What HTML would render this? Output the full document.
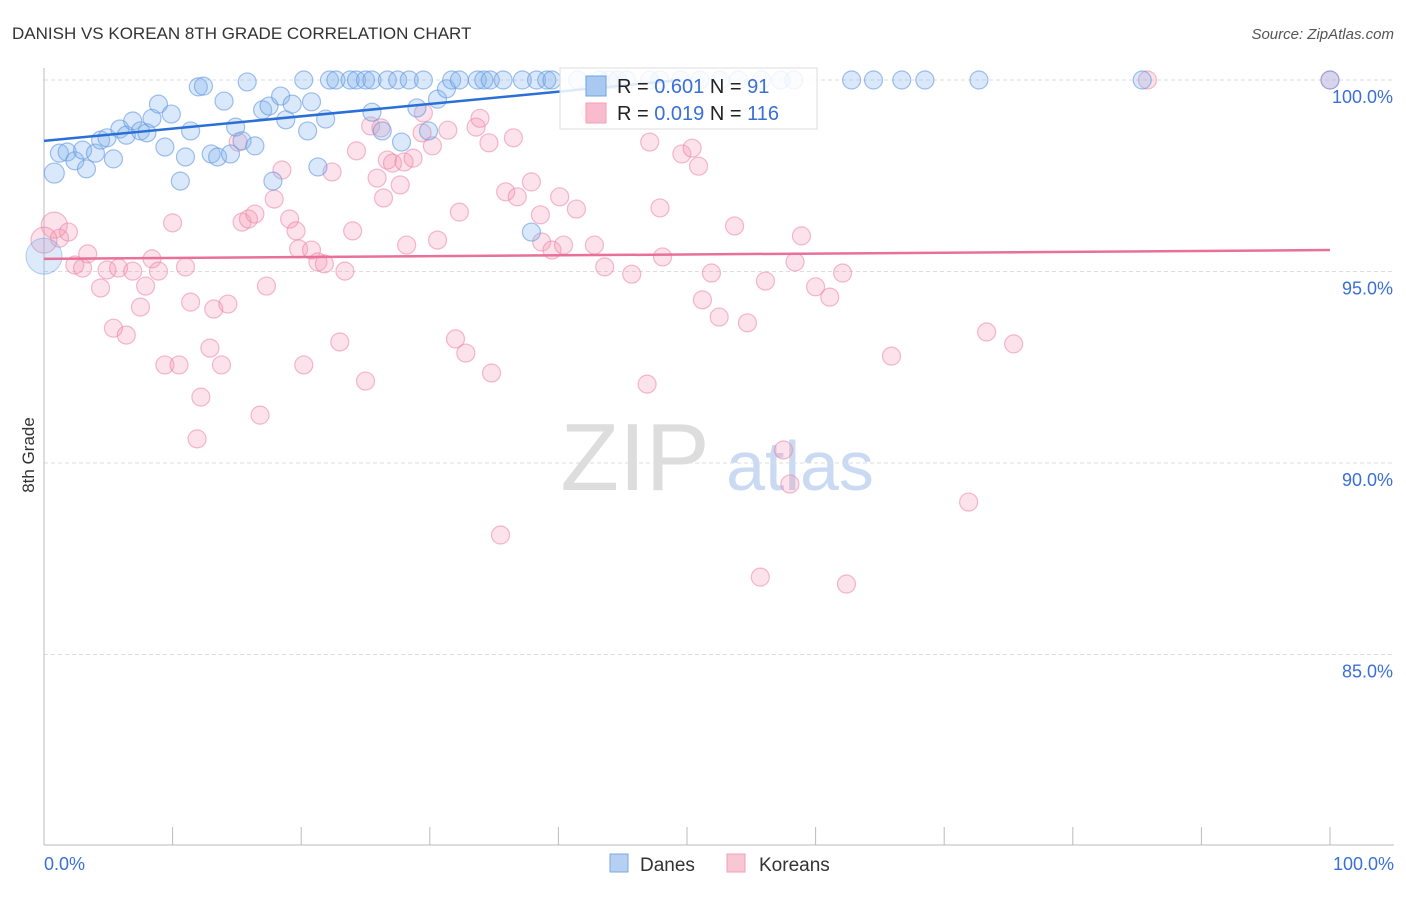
<!DOCTYPE html>
<html><head><meta charset="utf-8"><style>
body{margin:0;background:#fff;font-family:"Liberation Sans",sans-serif;}
svg text{font-family:"Liberation Sans",sans-serif;}
</style></head><body>
<svg id="chart" width="1406" height="892" xmlns="http://www.w3.org/2000/svg">
<text x="12" y="39" font-size="17" fill="#333">DANISH VS KOREAN 8TH GRADE CORRELATION CHART</text>
<text x="1394" y="39" font-size="15" fill="#555" text-anchor="end" font-style="italic">Source: ZipAtlas.com</text>
<text transform="translate(34,455) rotate(-90)" font-size="17" fill="#333" text-anchor="middle">8th Grade</text>
<g>
<text x="635" y="490" font-size="96" fill="#ddd" text-anchor="middle" font-family="Liberation Serif,serif">ZIP</text>
<text x="800" y="490" font-size="70" fill="#c9daf2" text-anchor="middle">atlas</text>
</g>
<g id="grid"></g>
<g id="axes"></g>
<g id="pts"></g>
<g id="trend"></g>
<g>
<rect x="560" y="68" width="257" height="61" fill="#fff" fill-opacity="0.85" stroke="#ddd"/>
<rect x="586" y="76" width="20" height="20" fill="#a9c9f0" stroke="#6fa3e0"/>
<text x="617" y="93" font-size="20" fill="#222">R = <tspan fill="#3a6fd8">0.601</tspan>   N =  <tspan fill="#3a6fd8">91</tspan></text>
<rect x="586" y="103" width="20" height="20" fill="#f8bccd" stroke="#f0a0b8"/>
<text x="617" y="120" font-size="20" fill="#222">R = <tspan fill="#3a6fd8">0.019</tspan>   N = <tspan fill="#3a6fd8">116</tspan></text>
</g>
<g>
<rect x="610" y="854" width="18" height="18" fill="#b5d0f2" stroke="#7aaae2"/>
<text x="640" y="871" font-size="19" fill="#333">Danes</text>
</g>
<g>
<rect x="727" y="854" width="18" height="18" fill="#f8c6d4" stroke="#f0a0b8"/>
<text x="759" y="871" font-size="19" fill="#333">Koreans</text>
</g>
</svg>
<script>
const yTicks=[100,95,90,85];
const yTickLabels=["100.0%","95.0%","90.0%","85.0%"];
const xTicks=[0,10,20,30,40,50,60,70,80,90,100];
const xEndLabels=["0.0%","100.0%"];
const danesX=[0.8,1.2,1.8,2.4,3.0,3.3,4.0,4.4,4.9,5.4,5.9,6.4,6.9,7.5,8.0,8.4,8.9,9.4,9.9,10.6,11.0,11.4,12.0,12.4,13.0,13.5,14.0,14.5,14.9,15.4,15.8,16.4,17.0,17.5,17.8,18.4,18.8,19.3,20.2,20.5,20.8,21.3,21.9,22.2,22.7,23.8,24.3,25.0,25.5,25.5,26.3,26.7,27.5,27.8,28.4,29.0,29.5,29.9,30.6,31.3,31.7,32.3,33.7,34.2,34.7,35.7,37.2,37.9,38.3,39.1,39.5,41.5,43.2,43.9,44.6,45.3,47.1,47.9,49.5,51.0,52.6,54.0,55.8,57.3,58.3,62.8,64.5,66.7,68.5,72.7,85.4,100];
const danesY=[97.57,98.09,98.12,97.89,98.17,97.68,98.09,98.43,98.49,97.94,98.72,98.56,98.93,98.67,98.62,99.0,99.37,98.25,99.11,97.36,97.99,98.67,99.82,99.84,98.07,97.99,99.45,98.07,98.77,98.41,99.95,98.28,99.22,99.32,97.36,99.58,98.96,99.37,100,98.67,99.43,97.73,98.98,100,100,100,100,100,100,99.16,98.67,100,100,98.38,100,99.27,100,98.67,99.5,99.77,100,100,100,100,100,100,100,96.03,100,100,100,100,100,100,100,100,100,100,100,100,100,100,100,100,100,100,100,100,100,100,100,100];
const koreansX=[0.8,1.2,1.9,2.4,3.0,3.4,4.4,4.9,5.4,5.8,6.4,6.9,7.5,7.9,8.4,8.9,9.4,10.0,10.5,11.0,11.4,11.9,12.2,12.9,13.2,13.8,14.3,15.1,15.4,15.9,16.4,16.8,17.3,17.9,18.5,19.1,19.6,19.8,20.2,20.8,21.3,21.8,22.4,23.0,23.4,24.0,24.3,25.0,25.4,25.9,26.2,26.4,26.7,27.1,27.7,28.0,28.2,28.7,29.4,29.5,30.2,30.6,31.4,32.0,32.3,32.8,33.6,33.9,34.6,34.8,35.5,35.9,36.5,36.8,37.9,38.6,38.7,39.5,40.1,40.4,41.4,42.5,42.8,43.6,45.7,46.9,47.1,47.9,48.1,49.6,50.4,50.9,51.2,51.9,52.5,53.7,54.7,55.7,56.1,57.5,58.0,58.4,58.9,60.0,61.1,62.1,62.4,65.9,71.9,73.3,75.4,85.8,100,0];
const koreansY=[96.21,95.87,96.03,95.17,95.09,95.46,94.57,95.04,93.52,95.09,93.34,95.01,94.07,94.62,95.33,95.01,92.56,96.27,92.56,95.12,94.2,90.63,91.72,93.0,94.02,92.56,94.15,98.38,96.29,96.37,96.5,91.25,94.62,96.89,97.65,96.37,96.06,95.59,92.56,95.56,95.25,95.2,97.6,93.16,95.01,96.06,98.15,92.14,98.8,97.44,98.75,96.92,97.91,97.83,97.26,97.86,95.69,97.96,98.62,99.14,98.28,95.82,98.69,93.24,96.55,92.87,98.77,99.0,98.36,92.35,88.12,97.08,98.49,96.95,97.34,96.48,95.77,95.56,96.95,95.69,96.63,99.14,95.69,95.12,94.93,92.06,98.38,96.66,95.38,98.07,98.22,97.75,94.26,94.96,93.81,96.19,93.66,87.02,94.75,90.34,89.45,95.25,95.93,94.6,94.33,94.96,86.84,92.79,88.98,93.42,93.11,100,100,95.82];
const danesTrendX=[0,49.5];
const danesTrendY=[98.41,100];
const koreansTrendX=[0,100];
const koreansTrendY=[95.33,95.56];

const NS="http://www.w3.org/2000/svg";
const X0=44,X1=1330,Y100=80,PX5=191.5;
const sx=v=>X0+(X1-X0)*v/100;
const sy=v=>Y100+(100-v)*PX5/5;
function mk(tag,attrs,parent){const e=document.createElementNS(NS,tag);for(const k in attrs)e.setAttribute(k,attrs[k]);parent.appendChild(e);return e;}
const grid=document.getElementById('grid'),axes=document.getElementById('axes'),pts=document.getElementById('pts'),trend=document.getElementById('trend');
yTicks.forEach((t,i)=>{
 const l=mk('line',{x1:44,x2:1394,y1:sy(t),y2:sy(t),stroke:'#ddd','stroke-dasharray':'4,3'},grid);
 
 
 const tx=mk('text',{x:1393,y:sy(t)+23,'font-size':18,fill:'#3a6fd8','text-anchor':'end'},axes);
 tx.textContent=yTickLabels[i];
 
 
});
const ya=mk('line',{x1:44,x2:44,y1:68,y2:845,stroke:'#bbb'},axes);


const xa=mk('line',{x1:44,x2:1394,y1:845,y2:845,stroke:'#bbb'},axes);


xTicks.forEach(t=>{
 const l=mk('line',{x1:sx(t),x2:sx(t),y1:827,y2:845,stroke:'#bbb'},axes);
 
 
});
const xl0=mk('text',{x:44,y:870,'font-size':18,fill:'#3a6fd8'},axes);xl0.textContent=xEndLabels[0];


const xl1=mk('text',{x:1394,y:870,'font-size':18,fill:'#3a6fd8','text-anchor':'end'},axes);xl1.textContent=xEndLabels[1];


koreansX.forEach((x,i)=>{
 const r=(i===0||i===koreansX.length-1)?13:9;
 const c=mk('circle',{cx:sx(x),cy:sy(koreansY[i]),r:r,fill:'rgba(243,150,180,0.28)',stroke:'rgba(236,130,165,0.55)','stroke-width':1.2},pts);
 
 
});
danesX.forEach((x,i)=>{
 const r=i===0?10:9;
 const c=mk('circle',{cx:sx(x),cy:sy(danesY[i]),r:r,fill:'rgba(130,178,238,0.3)',stroke:'rgba(100,152,222,0.6)','stroke-width':1.2},pts);
 
 
});
const bigDane=mk('circle',{cx:sx(0),cy:sy(95.4),r:18,fill:'rgba(130,178,238,0.28)',stroke:'rgba(100,152,222,0.45)'},pts);


const t1=mk('line',{x1:sx(danesTrendX[0]),y1:sy(danesTrendY[0]),x2:sx(danesTrendX[1]),y2:sy(danesTrendY[1]),stroke:'#2a6fd6','stroke-width':2.5},trend);


const t2=mk('line',{x1:sx(koreansTrendX[0]),y1:sy(koreansTrendY[0]),x2:sx(koreansTrendX[1]),y2:sy(koreansTrendY[1]),stroke:'#e8709a','stroke-width':2.5},trend);


</script>
</body></html>
